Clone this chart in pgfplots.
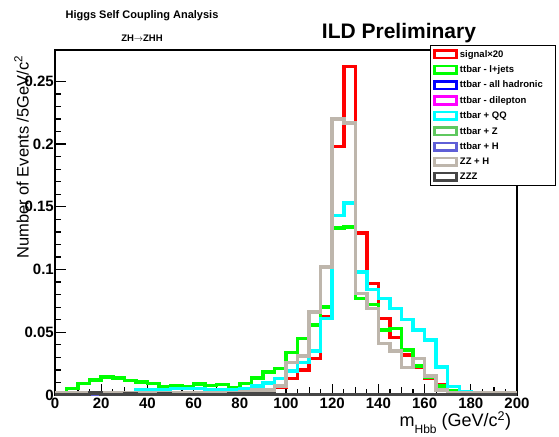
\documentclass[border=0pt]{standalone}
\usepackage{fontspec}
\setmainfont{Liberation Sans}
\usepackage{pgfplots}
\pgfplotsset{compat=1.18}
\usepackage{pgfplotstable}

\definecolor{cSig}{RGB}{255,0,0}
\definecolor{cLj}{RGB}{0,255,0}
\definecolor{cHad}{RGB}{0,0,255}
\definecolor{cDil}{RGB}{255,0,255}
\definecolor{cQQ}{RGB}{0,255,255}
\definecolor{cTtz}{RGB}{95,200,95}
\definecolor{cTth}{RGB}{95,95,215}
\definecolor{cZzh}{RGB}{190,182,172}
\definecolor{cZzz}{RGB}{70,70,70}

\newcommand{\lgt}[1]{\makebox[92pt][l]{#1}}

% 5 GeV bins, value at left edge; last row closes the step
\pgfplotstableread{
x   sig    lj     had dil qq     ttz tth zzh    zzz
0   0      0      0   0   0      0   0   0.0018 0
5   0      0.0050 0   0   0.0005 0   0   0.0018 0
10  0      0.0090 0   0   0.0005 0   0   0.0018 0
15  0      0.0118 0   0   0.0010 0   0   0.0018 0.0015
20  0      0.0145 0   0   0.0015 0   0   0.0020 0
25  0      0.0135 0   0   0.0010 0   0   0.0020 0
30  0      0.0115 0   0   0.0020 0   0   0.0018 0.0010
35  0      0.0105 0   0   0.0040 0   0   0.0020 0
40  0      0.0090 0   0   0.0045 0   0   0.0020 0
45  0      0.0066 0   0   0.0045 0   0   0.0018 0.0010
50  0      0.0070 0   0   0.0050 0   0   0.0020 0
55  0      0.0066 0   0   0.0050 0   0   0.0020 0
60  0      0.0088 0   0   0.0050 0   0   0.0018 0
65  0      0.0075 0   0   0.0045 0   0   0.0018 0
70  0      0.0085 0   0   0.0040 0   0   0.0020 0
75  0.0015 0.0060 0   0   0.0040 0   0   0.0020 0.0010
80  0.0010 0.0090 0   0   0.0050 0   0   0.0025 0.0010
85  0.0020 0.0135 0   0   0.0070 0   0   0.0040 0.0010
90  0.0020 0.0185 0   0   0.0095 0   0   0.0040 0.0010
95  0.0060 0.0210 0   0   0.0130 0   0   0.0070 0
100 0.0130 0.0340 0   0   0.0190 0   0   0.0260 0
105 0.0200 0.0450 0   0   0.0260 0   0   0.0310 0
110 0.0290 0.0560 0   0   0.0350 0   0   0.0660 0
115 0.0620 0.0700 0   0   0.0610 0   0   0.1020 0
120 0.1980 0.1330 0   0   0.1430 0   0   0.2200 0
125 0.2620 0.1340 0   0   0.1530 0   0   0.2170 0
130 0.1290 0.0770 0   0   0.0980 0   0   0.0810 0
135 0.0890 0.0720 0   0   0.0840 0   0   0.0690 0
140 0.0610 0.0520 0   0   0.0770 0   0   0.0410 0
145 0.0460 0.0530 0   0   0.0690 0   0   0.0350 0
150 0.0320 0.0360 0   0   0.0600 0   0   0.0220 0
155 0.0220 0.0230 0   0   0.0520 0   0   0.0290 0
160 0.0130 0.0145 0   0   0.0440 0   0   0.0150 0
165 0.0080 0.0070 0   0   0.0225 0   0   0.0040 0
170 0.0020 0.0030 0   0   0.0066 0   0   0.0020 0
175 0.0005 0.0010 0   0   0.0025 0   0   0.0018 0
180 0      0      0   0   0.0010 0   0   0.0018 0
185 0      0      0   0   0.0010 0   0   0.0018 0
190 0      0      0   0   0.0010 0   0   0.0018 0
195 0      0      0   0   0      0   0   0.0018 0
200 0      0      0   0   0      0   0   0.0018 0
}\hists

\begin{document}
\begin{tikzpicture}
\begin{axis}[
    width=462pt, height=345pt, scale only axis,
    xmin=0, xmax=200, ymin=0, ymax=0.275,
    clip mode=individual,
    axis line style={line width=1.5pt},
    xtick={0,20,...,200},
    minor x tick num=3,
    extra x ticks={10,30,...,190},
    extra x tick labels={},
    extra x tick style={major tick length=8pt},
    ytick={0,0.05,...,0.25},
    minor y tick num=4,
    xtick pos=left, ytick pos=left,
    tick align=inside,
    major tick length=11pt, minor tick length=6pt,
    every tick/.style={black, line width=1.2pt},
    scaled y ticks=false,
    /pgf/number format/assume math mode=true,
    yticklabel style={/pgf/number format/fixed, /pgf/number format/precision=2,
        inner sep=0pt, xshift=-1pt},
    xticklabel style={inner sep=0pt, yshift=-3pt},
    tick label style={font=\fontsize{15}{15}\selectfont\bfseries},
    ylabel={Number of Events /5GeV/c\textsuperscript{2}},
    ylabel style={at={(axis description cs:-0.0725,0.994)}, anchor=east,
        font=\fontsize{16.5}{16.5}\selectfont},
    xlabel={m\raisebox{-0.35em}{\fontsize{12}{12}\selectfont Hbb} (GeV/c\textsuperscript{2})},
    xlabel style={at={(axis description cs:0.995,-0.08)}, anchor=east,
        font=\fontsize{18}{18}\selectfont},
    legend image code/.code={\draw[#1, line width=2.6pt, fill=white] (0pt,-3.8pt) rectangle (22pt,3.8pt);},
    legend cell align=left,
    legend style={at={(rel axis cs:0.812,1.0116)}, anchor=north west,
        draw=none, fill=none, inner xsep=3pt, inner ysep=2pt,
        row sep=3pt,
        font=\fontsize{9.5}{10}\selectfont\bfseries},
    every axis plot/.append style={const plot, line width=3.5pt},
]
\coordinate (ll) at (rel axis cs:0,0);
% legend frame, reaching past the right edge of the axis
\draw[line width=1pt, fill=white] (rel axis cs:0.8117,0.6058) rectangle (rel axis cs:1.0844,1.0116);
\addplot[cSig] table[x=x, y=sig] {\hists};
\addlegendentry{\lgt{signal×20}}
\addplot[cLj] table[x=x, y=lj] {\hists};
\addlegendentry{\lgt{ttbar - l+jets}}
\addplot[cHad] table[x=x, y=had] {\hists};
\addlegendentry{\lgt{ttbar - all hadronic}}
\addplot[cDil] table[x=x, y=dil] {\hists};
\addlegendentry{\lgt{ttbar - dilepton}}
\addplot[cQQ] table[x=x, y=qq] {\hists};
\addlegendentry{\lgt{ttbar + QQ}}
\addplot[cTtz] table[x=x, y=ttz] {\hists};
\addlegendentry{\lgt{ttbar + Z}}
\addplot[cTth] table[x=x, y=tth] {\hists};
\addlegendentry{\lgt{ttbar + H}}
\addplot[cZzh] table[x=x, y=zzh] {\hists};
\addlegendentry{\lgt{ZZ + H}}
\addplot[cZzz] table[x=x, y=zzz] {\hists};
\addlegendentry{\lgt{ZZZ}}
\end{axis}

\node[font=\fontsize{11}{11}\selectfont\bfseries] at ([shift={(87pt,379pt)}]ll) {Higgs Self Coupling Analysis};
\node[font=\fontsize{9.5}{9.5}\selectfont\bfseries] at ([shift={(87pt,357pt)}]ll) {ZH$\rightarrow$ZHH};
\node[font=\fontsize{21}{21}\selectfont\bfseries] at ([shift={(344pt,362pt)}]ll) {ILD Preliminary};

\path ([shift={(-55pt,-38pt)}]ll) rectangle ([shift={(504pt,395pt)}]ll);
\end{tikzpicture}
\end{document}
